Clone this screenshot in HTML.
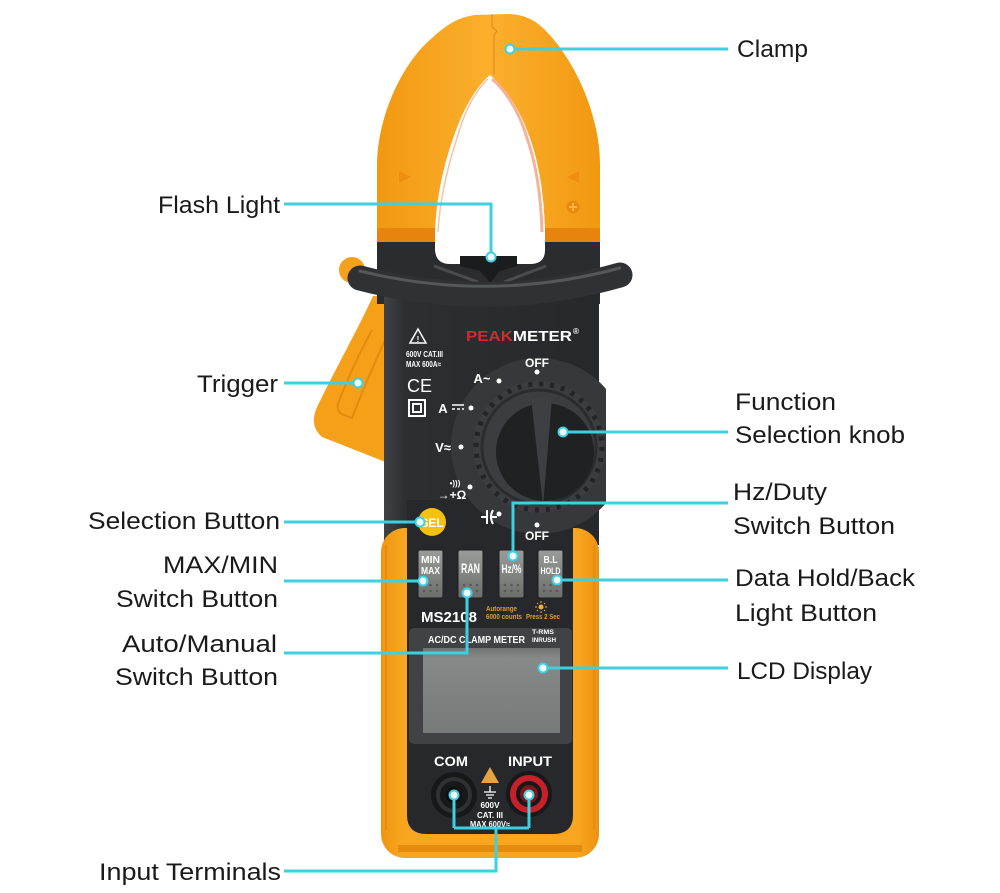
<!DOCTYPE html>
<html><head><meta charset="utf-8">
<style>
html,body{margin:0;padding:0;background:#fff;}
svg{display:block;}
.l{font-family:"Liberation Sans",sans-serif;font-size:24px;fill:#1a1a1a;}
.w{font-family:"Liberation Sans",sans-serif;font-weight:bold;fill:#fff;}
</style></head><body>
<svg width="1000" height="893" viewBox="0 0 1000 893" xmlns="http://www.w3.org/2000/svg">
<defs>
<linearGradient id="og" x1="0" x2="1" y1="0" y2="0">
 <stop offset="0" stop-color="#f29812"/><stop offset=".5" stop-color="#fbb02c"/><stop offset="1" stop-color="#f29812"/>
</linearGradient>
<linearGradient id="bootg" x1="0" x2="1" y1="0" y2="0">
 <stop offset="0" stop-color="#f09512"/><stop offset=".1" stop-color="#f8a620"/><stop offset=".9" stop-color="#f8a620"/><stop offset="1" stop-color="#ee9210"/>
</linearGradient>
<linearGradient id="bg" x1="0" x2="1" y1="0" y2="0">
 <stop offset="0" stop-color="#404245"/><stop offset=".1" stop-color="#2c2e31"/><stop offset="1" stop-color="#26282b"/>
</linearGradient>
<linearGradient id="btn" x1="0" x2="0" y1="0" y2="1">
 <stop offset="0" stop-color="#9a9c9a"/><stop offset="1" stop-color="#6c6e6c"/>
</linearGradient>
<linearGradient id="lcd" x1="0" x2="0" y1="0" y2="1">
 <stop offset="0" stop-color="#6f7473"/><stop offset=".12" stop-color="#858a89"/><stop offset="1" stop-color="#767b7a"/>
</linearGradient>
<clipPath id="bc"><rect x="384" y="300" width="222" height="240"/></clipPath>
</defs>

<!-- trigger -->
<path d="M373,296 C360,325 335,370 318,405 Q308,425 322,437 L388,463 L392,296 Z" fill="#f6a01a"/>
<path d="M372,330 C358,356 346,382 338,404 Q336,412 344,415 L352,418 C362,392 374,364 386,338" fill="none" stroke="#e38b0e" stroke-width="2"/>
<circle cx="352" cy="270" r="13" fill="#f6a11c"/>

<!-- clamp -->
<path d="M377,240 L377,165 C377,120 400,65 432,38 C445,26 458,17 475,15 L510,14 C525,15 535,20 545,30 C575,60 600,115 600,165 L600,240 Z" fill="url(#og)"/>
<rect x="377" y="228" width="223" height="16" fill="#e6840d"/>
<rect x="377" y="242" width="223" height="62" fill="#2a2c2f"/>
<path d="M490,75 C478,85 465,105 455,133 C445,160 436,195 435,235 L435,250 Q436,264 450,264 L530,264 Q545,264 545,250 L545,230 C544,190 537,155 528,133 C518,105 502,85 490,75 Z" fill="#fff"/>
<path d="M492,79 C504,89 518,109 526,135 C535,160 541,192 542,232" fill="none" stroke="#f3b49c" stroke-width="3"/>
<path d="M488,79 C476,90 465,110 458,135 C449,162 440,195 438,232" fill="none" stroke="#f6c2a8" stroke-width="1.5"/>
<path d="M492,14 L492,27 L497,31 L494,35 L494,75" fill="none" stroke="#d98a22" stroke-width="1"/>
<polygon points="399,171 399,183 411,177" fill="#ef8e10"/>
<polygon points="579,171 579,183 567,177" fill="#ef8e10"/>
<circle cx="573" cy="207" r="6.5" fill="#e98a10"/>
<path d="M573,203 V211 M569,207 H577" stroke="#fbb744" stroke-width="2"/>
<!-- flash housing & bevel -->
<path d="M434,266 L478,282 M546,266 L504,282" stroke="#4a4c4f" stroke-width="3"/>
<polygon points="460,256 517,256 517,266 500,271 490,283 480,271 460,266" fill="#1b1c1e"/>

<!-- body -->
<rect x="384" y="290" width="215" height="255" fill="url(#bg)"/>

<!-- collar -->
<path d="M360,278 Q490,312 620,275" fill="none" stroke="#2f3134" stroke-width="25" stroke-linecap="round"/>
<path d="M360,271 Q490,303 620,268" fill="none" stroke="#55585b" stroke-width="3" stroke-linecap="round"/>

<!-- boot -->
<rect x="381" y="528" width="218" height="330" rx="24" fill="url(#bootg)"/>
<path d="M386,545 V830 M594,545 V830" stroke="#e58d10" stroke-width="2"/>
<path d="M398,845 H582 L582,852 H398 Z" fill="#e58c0e"/>
<!-- faceplate -->
<path d="M407,500 L573,500 L573,815 Q573,834 553,834 L427,834 Q407,834 407,815 Z" fill="#26282b"/>

<!-- dial -->
<g clip-path="url(#bc)">
<circle cx="539" cy="446" r="88" fill="#36383b"/>
</g>
<circle cx="539" cy="447" r="66" fill="#3b3d40"/>
<circle cx="539" cy="447" r="63" fill="none" stroke="#222427" stroke-width="5" stroke-dasharray="4 7"/>
<circle cx="539" cy="447" r="57" fill="none" stroke="#2a2c2f" stroke-width="3"/>
<circle cx="545" cy="452" r="49" fill="#1f2123"/>
<polygon points="531,398 552,398 543,506" fill="#3d3f42"/>

<g class="w" text-anchor="middle">
<text x="537" y="367" font-size="12">OFF</text>
<text x="482" y="383" font-size="13">A~</text>
<text x="443" y="413" font-size="13">A</text>
<text x="443" y="452" font-size="13">V≈</text>
<text x="455" y="486" font-size="8">•)))</text>
<text x="452" y="499" font-size="12">→+Ω</text>
<text x="537" y="540" font-size="12">OFF</text>
</g>
<path d="M452,405 H464 M452,409 H455 M457,409 H460 M462,409 H464" stroke="#fff" stroke-width="1.5"/>
<path d="M481,517 H487 M487,510 V524 M493,510 Q489,517 493,524 M491,517 H497" stroke="#fff" stroke-width="2" fill="none"/>
<g fill="#fff">
<circle cx="537" cy="372" r="2.5"/><circle cx="499" cy="381" r="2.5"/><circle cx="471" cy="408" r="2.5"/>
<circle cx="461" cy="447" r="2.5"/><circle cx="470" cy="487" r="2.5"/><circle cx="499" cy="514" r="2.5"/>
<circle cx="537" cy="525" r="2.5"/>
</g>

<!-- brand & info -->
<text class="w" x="466" y="341" font-size="14.5" textLength="106" lengthAdjust="spacingAndGlyphs"><tspan fill="#d42a2f">PEAK</tspan>METER</text>
<text class="w" x="573" y="334" font-size="8">®</text>
<polygon points="418,329 410,343 426,343" fill="none" stroke="#fff" stroke-width="1.5"/>
<text class="w" x="418" y="342" font-size="8" text-anchor="middle">!</text>
<text class="w" x="406" y="357" font-size="8.5" textLength="37" lengthAdjust="spacingAndGlyphs">600V CAT.III</text>
<text class="w" x="406" y="367" font-size="8.5" textLength="35" lengthAdjust="spacingAndGlyphs">MAX 600A≈</text>
<text x="407" y="392" font-family="Liberation Sans,sans-serif" font-size="18" fill="#fff">CE</text>
<rect x="409" y="400" width="16" height="16" fill="none" stroke="#fff" stroke-width="2"/>
<rect x="413" y="404" width="8" height="8" fill="none" stroke="#fff" stroke-width="2"/>

<!-- SEL -->
<circle cx="432" cy="522" r="14" fill="#f4c10f"/>
<text class="w" x="432" y="527" font-size="12" text-anchor="middle" fill="#fff7dd">SEL</text>

<!-- buttons -->
<g>
<rect x="418" y="550" width="25" height="48" rx="2" fill="url(#btn)" stroke="#1e1e1e"/>
<rect x="458" y="550" width="25" height="48" rx="2" fill="url(#btn)" stroke="#1e1e1e"/>
<rect x="499" y="550" width="25" height="48" rx="2" fill="url(#btn)" stroke="#1e1e1e"/>
<rect x="538" y="550" width="25" height="48" rx="2" fill="url(#btn)" stroke="#1e1e1e"/>
</g>
<g class="w" text-anchor="middle">
<text x="430.5" y="563" font-size="10" textLength="19" lengthAdjust="spacingAndGlyphs">MIN</text>
<text x="430.5" y="574" font-size="10" textLength="19" lengthAdjust="spacingAndGlyphs">MAX</text>
<text x="470.5" y="573" font-size="14" textLength="19" lengthAdjust="spacingAndGlyphs">RAN</text>
<text x="511.5" y="573" font-size="12" textLength="20" lengthAdjust="spacingAndGlyphs">Hz/%</text>
<text x="550.5" y="563" font-size="10" textLength="14" lengthAdjust="spacingAndGlyphs">B.L</text>
<text x="550.5" y="574" font-size="9" textLength="20" lengthAdjust="spacingAndGlyphs">HOLD</text>
</g>
<g fill="#575957">
<circle cx="424" cy="585" r="1.3"/><circle cx="430.5" cy="585" r="1.3"/><circle cx="437" cy="585" r="1.3"/>
<circle cx="424" cy="591" r="1.3"/><circle cx="430.5" cy="591" r="1.3"/><circle cx="437" cy="591" r="1.3"/>
<circle cx="464" cy="585" r="1.3"/><circle cx="470.5" cy="585" r="1.3"/><circle cx="477" cy="585" r="1.3"/>
<circle cx="464" cy="591" r="1.3"/><circle cx="470.5" cy="591" r="1.3"/><circle cx="477" cy="591" r="1.3"/>
<circle cx="505" cy="585" r="1.3"/><circle cx="511.5" cy="585" r="1.3"/><circle cx="518" cy="585" r="1.3"/>
<circle cx="505" cy="591" r="1.3"/><circle cx="511.5" cy="591" r="1.3"/><circle cx="518" cy="591" r="1.3"/>
<circle cx="544" cy="585" r="1.3"/><circle cx="550.5" cy="585" r="1.3"/><circle cx="557" cy="585" r="1.3"/>
<circle cx="544" cy="591" r="1.3"/><circle cx="550.5" cy="591" r="1.3"/><circle cx="557" cy="591" r="1.3"/>
</g>

<!-- model -->
<text class="w" x="421" y="622" font-size="15" textLength="56" lengthAdjust="spacingAndGlyphs">MS2108</text>
<text x="486" y="611" font-family="Liberation Sans,sans-serif" font-weight="bold" font-size="7.5" fill="#e39a3a" textLength="31" lengthAdjust="spacingAndGlyphs">Autorange</text>
<text x="486" y="619" font-family="Liberation Sans,sans-serif" font-weight="bold" font-size="7.5" fill="#e39a3a" textLength="36" lengthAdjust="spacingAndGlyphs">6000 counts</text>
<text x="526" y="619" font-family="Liberation Sans,sans-serif" font-weight="bold" font-size="7.5" fill="#e39a3a" textLength="34" lengthAdjust="spacingAndGlyphs">Press 2 Sec</text>
<circle cx="541" cy="607" r="2.5" fill="#f0b040"/>
<path d="M541,601 V603 M541,611 V613 M535,607 H537 M545,607 H547 M537,603 L538,604 M545,603 L544,604 M537,611 L538,610 M545,611 L544,610" stroke="#f0b040" stroke-width="1"/>

<!-- LCD -->
<rect x="409" y="628" width="163" height="116" rx="5" fill="#404245"/>
<text class="w" x="428" y="643" font-size="10" textLength="97" lengthAdjust="spacingAndGlyphs">AC/DC CLAMP METER</text>
<text class="w" x="532" y="634" font-size="6.5" textLength="22" lengthAdjust="spacingAndGlyphs" fill="#ddd">T-RMS</text>
<text class="w" x="532" y="642" font-size="6.5" textLength="24" lengthAdjust="spacingAndGlyphs" fill="#ddd">INRUSH</text>
<rect x="423" y="648" width="137" height="85" fill="url(#lcd)"/>

<!-- terminals -->
<text class="w" x="451" y="766" font-size="14" text-anchor="middle" textLength="34" lengthAdjust="spacingAndGlyphs">COM</text>
<text class="w" x="530" y="766" font-size="14" text-anchor="middle" textLength="44" lengthAdjust="spacingAndGlyphs">INPUT</text>
<circle cx="454" cy="795" r="23" fill="#17181a"/>
<circle cx="454" cy="795" r="16" fill="none" stroke="#2f3133" stroke-width="4"/>
<circle cx="454" cy="795" r="8" fill="#0d0d0e"/>
<circle cx="529" cy="794" r="23" fill="#17181a"/>
<circle cx="529" cy="794" r="16" fill="none" stroke="#c8202a" stroke-width="6"/>
<circle cx="529" cy="794" r="9" fill="#7c161b"/>
<circle cx="529" cy="794" r="4" fill="#2a0a0c"/>
<polygon points="490,767 481,783 499,783" fill="#e8a33a"/>
<path d="M490,786 V792 M484,792 H496 M486,795 H494 M488,798 H492" stroke="#fff" stroke-width="1.3"/>
<g class="w" text-anchor="middle" font-size="8.5">
<text x="490" y="808" textLength="19" lengthAdjust="spacingAndGlyphs">600V</text>
<text x="490" y="818" textLength="26" lengthAdjust="spacingAndGlyphs">CAT. III</text>
<text x="490" y="827" textLength="40" lengthAdjust="spacingAndGlyphs">MAX 600V≈</text>
</g>

<!-- connectors -->
<g fill="none" stroke="#3ecfe1" stroke-width="3">
<path d="M510,49 H728"/>
<path d="M284,204 H491 V257"/>
<path d="M284,383 H358"/>
<path d="M284,522 H420"/>
<path d="M284,581 H423"/>
<path d="M284,653 H467 V593"/>
<path d="M284,871 H496 V828 M454,828 H529 M454,828 V795 M529,828 V795"/>
<path d="M563,432 H728"/>
<path d="M728,503 H513 V556"/>
<path d="M557,580 H728"/>
<path d="M543,668 H728"/>
</g>
<g fill="#eefcff" stroke="#3ecfe1" stroke-width="2">
<circle cx="510" cy="49" r="4.5"/>
<circle cx="491" cy="257" r="4.5"/>
<circle cx="358" cy="383" r="4.5"/>
<circle cx="420" cy="522" r="4.5"/>
<circle cx="423" cy="581" r="4.5"/>
<circle cx="467" cy="593" r="4.5"/>
<circle cx="454" cy="795" r="4.5"/>
<circle cx="529" cy="795" r="4.5"/>
<circle cx="563" cy="432" r="4.5"/>
<circle cx="513" cy="556" r="4.5"/>
<circle cx="557" cy="580" r="4.5"/>
<circle cx="543" cy="668" r="4.5"/>
</g>

<!-- labels -->
<g class="l">
<text x="737" y="57" textLength="71" lengthAdjust="spacingAndGlyphs">Clamp</text>
<text x="158" y="213" textLength="122" lengthAdjust="spacingAndGlyphs">Flash Light</text>
<text x="197" y="392" textLength="81" lengthAdjust="spacingAndGlyphs">Trigger</text>
<text x="88" y="529" textLength="192" lengthAdjust="spacingAndGlyphs">Selection Button</text>
<text x="163" y="573" textLength="115" lengthAdjust="spacingAndGlyphs">MAX/MIN</text>
<text x="116" y="607" textLength="162" lengthAdjust="spacingAndGlyphs">Switch Button</text>
<text x="122" y="652" textLength="155" lengthAdjust="spacingAndGlyphs">Auto/Manual</text>
<text x="115" y="685" textLength="163" lengthAdjust="spacingAndGlyphs">Switch Button</text>
<text x="99" y="880" textLength="182" lengthAdjust="spacingAndGlyphs">Input Terminals</text>
<text x="735" y="410" textLength="101" lengthAdjust="spacingAndGlyphs">Function</text>
<text x="735" y="443" textLength="170" lengthAdjust="spacingAndGlyphs">Selection knob</text>
<text x="733" y="500" textLength="94" lengthAdjust="spacingAndGlyphs">Hz/Duty</text>
<text x="733" y="534" textLength="162" lengthAdjust="spacingAndGlyphs">Switch Button</text>
<text x="735" y="586" textLength="180" lengthAdjust="spacingAndGlyphs">Data Hold/Back</text>
<text x="735" y="621" textLength="142" lengthAdjust="spacingAndGlyphs">Light Button</text>
<text x="737" y="679" textLength="135" lengthAdjust="spacingAndGlyphs">LCD Display</text>
</g>
</svg>
</body></html>
